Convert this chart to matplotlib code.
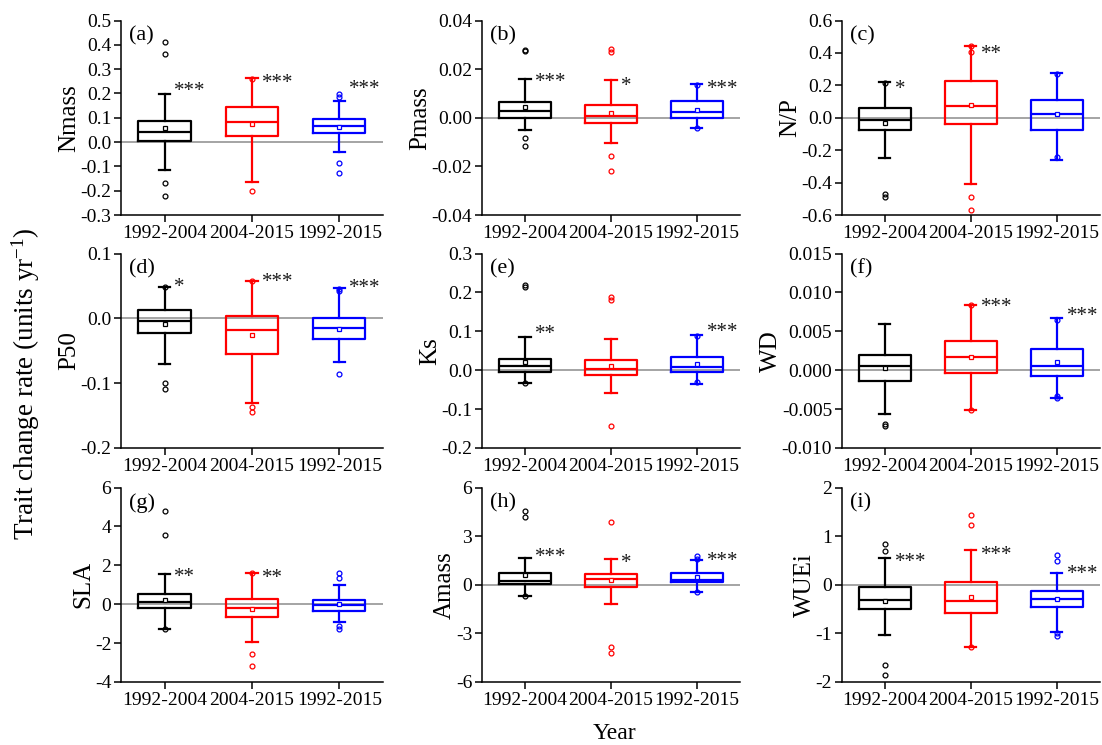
import matplotlib
matplotlib.use("Agg")
import matplotlib.pyplot as plt
from matplotlib.ticker import FormatStrFormatter
import numpy as np

plt.rcParams['font.family'] = ['Liberation Serif', 'DejaVu Serif']
plt.rcParams['axes.unicode_minus'] = False
plt.rcParams['mathtext.fontset'] = 'custom'
plt.rcParams['mathtext.rm'] = 'Liberation Serif'
plt.rcParams['mathtext.default'] = 'regular'

periods = ['1992-2004', '2004-2015', '1992-2015']
colors = ['black', 'red', 'blue']
traits = ['Nmass', 'Pmass', 'N/P', 'P50', 'Ks', 'WD', 'SLA', 'Amass', 'WUEi']
letters = ['(a)', '(b)', '(c)', '(d)', '(e)', '(f)', '(g)', '(h)', '(i)']

ylims = [(-0.3, 0.5), (-0.04, 0.04), (-0.6, 0.6), (-0.2, 0.1), (-0.2, 0.3),
         (-0.010, 0.015), (-4, 6), (-6, 6), (-2, 2)]
ysteps = [0.1, 0.02, 0.2, 0.1, 0.1, 0.005, 2, 3, 1]
ydecimals = [1, 2, 1, 1, 1, 3, 0, 0, 0]

# per panel, per period (1992-2004, 2004-2015, 1992-2015)
whislo = [[-0.114, -0.166, -0.042], [-0.0052, -0.0103, -0.0041], [-0.251, -0.409, -0.259],
          [-0.070, -0.130, -0.068], [-0.034, -0.0575, -0.036], [-0.0056, -0.0051, -0.0036],
          [-1.29, -1.94, -0.94], [-0.70, -1.17, -0.45], [-1.04, -1.28, -0.966]]
q1 = [[0.005, 0.023, 0.037], [0.0, -0.0022, 0.0], [-0.074, -0.039, -0.076],
      [-0.023, -0.055, -0.032], [-0.005, -0.012, -0.004], [-0.00133, -0.00039, -0.00073],
      [-0.19, -0.64, -0.33], [0.04, -0.12, 0.16], [-0.50, -0.575, -0.466]]
med = [[0.041, 0.083, 0.068], [0.0029, 0.0008, 0.0022], [-0.012, 0.070, 0.023],
       [-0.0036, -0.0175, -0.0154], [0.0103, 0.0026, 0.0094], [0.00051, 0.00176, 0.00056],
       [0.12, -0.22, -0.03], [0.21, 0.37, 0.27], [-0.315, -0.342, -0.295]]
q3 = [[0.087, 0.145, 0.096], [0.0063, 0.0051, 0.0068], [0.062, 0.230, 0.111],
      [0.0124, 0.0036, 0.001], [0.030, 0.0266, 0.035], [0.00189, 0.00369, 0.00274],
      [0.55, 0.27, 0.21], [0.72, 0.64, 0.70], [-0.055, 0.055, -0.137]]
whishi = [[0.198, 0.263, 0.168], [0.016, 0.0156, 0.014], [0.218, 0.446, 0.274],
          [0.048, 0.057, 0.0468], [0.085, 0.079, 0.090], [0.0059, 0.00836, 0.00673],
          [1.53, 1.62, 1.01], [1.68, 1.58, 1.50], [0.555, 0.705, 0.24]]
means = [[0.057, 0.075, 0.064], [0.0046, 0.0019, 0.0034], [-0.031, 0.080, 0.021],
         [-0.0082, -0.025, -0.0165], [0.022, 0.0103, 0.017], [0.00026, 0.00167, 0.00103],
         [0.24, -0.27, 0.03], [0.60, 0.29, 0.45], [-0.342, -0.247, -0.30]]
fliers = [
    [[0.412, 0.363, -0.167, -0.222], [0.26, -0.201], [0.198, 0.186, -0.086, -0.127]],
    [[0.028, 0.0274, -0.0082, -0.0115], [0.0283, 0.0272, -0.0159, -0.022], [0.0135, -0.0041]],
    [[0.215, -0.469, -0.486], [0.446, 0.409, -0.49, -0.568], [0.268, -0.239]],
    [[0.048, -0.099, -0.109], [0.057, -0.137, -0.144], [0.046, 0.042, -0.0854]],
    [[0.220, 0.2136, -0.034], [0.189, 0.181, -0.144], [0.089, -0.030]],
    [[-0.00686, -0.0072], [0.00836, -0.0051], [0.00647, -0.00334, -0.0036]],
    [[4.81, 3.56, -1.29], [1.62, -2.56, -3.16], [1.60, 1.37, -1.13, -1.25]],
    [[4.56, 4.21, -0.68], [3.88, -3.86, -4.23], [1.79, 1.62, -0.43]],
    [[0.836, 0.70, -1.66, -1.86], [1.44, 1.23, -1.28], [0.61, 0.493, -0.993, -1.048]],
]
stars = [['***', '***', '***'], ['***', '*', '***'], ['*', '**', ''],
         ['*', '***', '***'], ['**', '', '***'], ['', '***', '***'],
         ['**', '**', ''], ['***', '*', '***'], ['***', '***', '***']]
star_y = [[0.233, 0.267, 0.242], [0.017, 0.0153, 0.014], [0.214, 0.426, 0.0],
          [0.057, 0.064, 0.0556], [0.107, 0.0, 0.111], [0.0, 0.00888, 0.0076],
          [1.70, 1.65, 0.0], [2.03, 1.70, 1.81], [0.58, 0.72, 0.33]]

fig = plt.figure(figsize=(11.02, 7.45), dpi=100)

lefts = [0.1098, 0.4374, 0.764]
widths = [0.2377, 0.234, 0.234]
bottoms = [0.7114, 0.3987, 0.0846]
height = 0.261

for k in range(9):
    r, c = divmod(k, 3)
    ax = fig.add_axes([lefts[c], bottoms[r], widths[c], height])
    ax.axhline(0, color='#8c8c8c', lw=1.1, zorder=1)
    for j in range(3):
        col = colors[j]
        st = [dict(whislo=whislo[k][j], q1=q1[k][j], med=med[k][j], q3=q3[k][j],
                   whishi=whishi[k][j], mean=means[k][j], fliers=fliers[k][j])]
        ax.bxp(st, positions=[j + 1], widths=0.6, showmeans=True, meanline=False,
               manage_ticks=False, capwidths=0.13,
               boxprops=dict(color=col, lw=1.6),
               whiskerprops=dict(color=col, lw=1.6),
               capprops=dict(color=col, lw=1.6),
               medianprops=dict(color=col, lw=1.6),
               meanprops=dict(marker='s', mfc='white', mec=col, ms=3.5, mew=0.9),
               flierprops=dict(marker='o', mfc='none', mec=col, ms=3.5, mew=0.9))
        if stars[k][j]:
            ax.annotate(stars[k][j], xy=(j + 1, star_y[k][j]), xytext=(7, -7.5),
                        textcoords='offset points', ha='left', va='baseline',
                        fontsize=15, color='#1a1a1a')
    ax.set_xlim(0.5, 3.5)
    lo, hi = ylims[k]
    ax.set_ylim(lo, hi)
    ax.set_yticks(np.arange(lo, hi + ysteps[k] / 2, ysteps[k]))
    ax.yaxis.set_major_formatter(FormatStrFormatter('%%.%df' % ydecimals[k]))
    ax.set_xticks([1, 2, 3])
    ax.set_xticklabels(periods)
    ax.spines['top'].set_visible(False)
    ax.spines['right'].set_visible(False)
    for s in ['left', 'bottom']:
        ax.spines[s].set_linewidth(1.1)
    ax.tick_params(axis='both', direction='out', length=5, width=1.1, labelsize=14, pad=2)
    ax.set_ylabel(traits[k], fontsize=18, labelpad=0)
    ax.text(0.03, 0.97, letters[k], transform=ax.transAxes, ha='left', va='top', fontsize=16)

fig.text(0.023, 0.485, 'Trait change rate (units yr$^{-1}$)', rotation=90,
         ha='center', va='center', fontsize=19.5)
fig.text(0.558, 0.016, 'Year', ha='center', va='center', fontsize=17)

fig.savefig('out.png', dpi=100)
